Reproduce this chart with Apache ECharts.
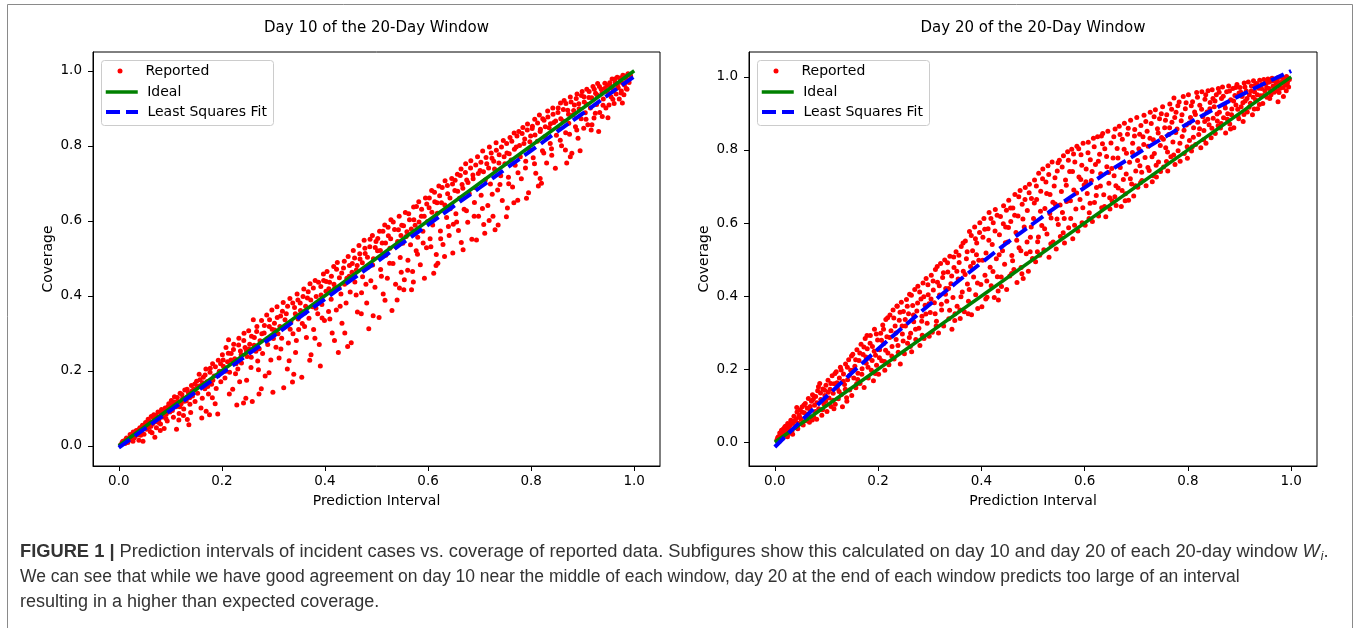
<!DOCTYPE html>
<html><head><meta charset="utf-8">
<script src="https://cdn.jsdelivr.net/npm/echarts@6/dist/echarts.min.js"></script>
<style>html,body{margin:0;padding:0;background:#fff}#chart{width:1360px;height:628px}</style>
</head><body><div id="chart"></div>
<script>
const panelTitles = ['Day 10 of the 20-Day Window', 'Day 20 of the 20-Day Window'];
const seriesNames = ['Reported', 'Ideal', 'Least Squares Fit'];
const xAxisName = 'Prediction Interval';
const yAxisName = 'Coverage';
const tickValues = [0, 0.2, 0.4, 0.6, 0.8, 1.0];
const idealX = [0, 1];
const idealY = [0, 1];
const fitX = [0,0.05,0.1,0.15,0.2,0.25,0.3,0.35,0.4,0.45,0.5,0.55,0.6,0.65,0.7,0.75,0.8,0.85,0.9,0.95,1.0];
const day10FitY = [-0.005,0.045,0.094,0.144,0.193,0.243,0.292,0.342,0.391,0.441,0.490,0.540,0.589,0.639,0.688,0.738,0.787,0.837,0.886,0.936,0.985];
const day20FitY = [-0.013,0.057,0.125,0.191,0.255,0.317,0.377,0.435,0.491,0.546,0.598,0.649,0.697,0.744,0.788,0.831,0.872,0.911,0.948,0.983,1.016];

const day10ReportedA = [
[0.004,0.003],[0.008,0.012],[0.012,0.006],[0.015,0.021],[0.019,0.014],[0.022,0.030],[0.025,0.018],[0.028,0.037],[0.031,0.024],[0.034,0.041],[0.036,0.029],[0.039,0.015],[0.041,0.048],[0.044,0.036],[0.046,0.055],[0.047,0.012],[0.049,0.031],
[0.052,0.062],[0.054,0.044],[0.057,0.071],[0.059,0.051],[0.061,0.038],[0.063,0.078],[0.066,0.059],[0.068,0.083],[0.070,0.023],[0.071,0.064],[0.073,0.048],[0.076,0.090],[0.078,0.071],[0.081,0.058],[0.083,0.097],[0.085,0.077],[0.088,0.046],[0.090,0.101],[0.092,0.084],[0.094,0.066],[0.097,0.112],[0.099,0.090],
[0.102,0.121],[0.104,0.094],[0.106,0.076],[0.108,0.131],[0.111,0.104],[0.112,0.044],[0.114,0.118],[0.117,0.086],[0.119,0.140],[0.121,0.112],[0.124,0.127],[0.126,0.098],[0.128,0.149],[0.131,0.120],[0.133,0.070],[0.135,0.142],[0.136,0.056],[0.138,0.111],[0.141,0.161],[0.143,0.133],[0.146,0.151],[0.148,0.118],
[0.151,0.172],[0.153,0.140],[0.156,0.191],[0.158,0.160],[0.161,0.074],[0.162,0.127],[0.164,0.183],[0.167,0.152],[0.169,0.205],[0.171,0.171],[0.174,0.138],[0.176,0.083],[0.177,0.196],[0.180,0.164],[0.182,0.219],[0.185,0.186],[0.187,0.112],[0.189,0.153],[0.192,0.085],[0.193,0.228],[0.195,0.199],[0.198,0.171],
[0.201,0.243],[0.203,0.212],[0.206,0.181],[0.208,0.262],[0.211,0.224],[0.213,0.283],[0.215,0.196],[0.218,0.246],[0.221,0.151],[0.223,0.271],[0.225,0.232],[0.229,0.109],[0.231,0.205],[0.233,0.287],[0.236,0.253],[0.238,0.221],[0.242,0.114],[0.243,0.300],[0.245,0.262],[0.248,0.175],[0.249,0.238],
[0.252,0.307],[0.254,0.271],[0.257,0.236],[0.259,0.118],[0.261,0.336],[0.263,0.289],[0.266,0.252],[0.268,0.318],[0.271,0.203],[0.272,0.138],[0.274,0.280],[0.277,0.334],[0.279,0.246],[0.282,0.301],[0.284,0.186],[0.287,0.349],[0.289,0.270],[0.292,0.318],[0.295,0.229],[0.297,0.362],[0.299,0.143],[0.300,0.286],
[0.302,0.327],[0.305,0.263],[0.307,0.371],[0.309,0.299],[0.311,0.234],[0.314,0.346],[0.316,0.287],[0.319,0.382],[0.320,0.155],[0.322,0.318],[0.325,0.352],[0.327,0.205],[0.329,0.274],[0.332,0.393],[0.334,0.331],[0.337,0.170],[0.338,0.299],[0.341,0.369],[0.343,0.249],[0.346,0.405],[0.348,0.338],[0.349,0.310],
[0.352,0.381],[0.355,0.183],[0.356,0.326],[0.359,0.418],[0.361,0.354],[0.364,0.289],[0.366,0.394],[0.369,0.340],[0.371,0.432],[0.373,0.243],[0.376,0.371],[0.378,0.310],[0.381,0.441],[0.383,0.398],[0.386,0.352],[0.389,0.270],[0.391,0.213],[0.392,0.425],[0.394,0.377],[0.397,0.458],[0.399,0.334],
[0.402,0.412],[0.404,0.465],[0.407,0.358],[0.409,0.436],[0.412,0.391],[0.414,0.301],[0.417,0.478],[0.419,0.421],[0.422,0.362],[0.424,0.489],[0.426,0.249],[0.428,0.448],[0.431,0.405],[0.433,0.327],[0.436,0.474],[0.438,0.431],[0.441,0.381],[0.444,0.265],[0.445,0.505],[0.447,0.452],[0.449,0.410],[0.451,0.275],
[0.453,0.486],[0.455,0.521],[0.458,0.437],[0.461,0.469],[0.463,0.357],[0.466,0.534],[0.468,0.498],[0.471,0.408],[0.473,0.451],[0.476,0.548],[0.478,0.513],[0.481,0.381],[0.483,0.476],[0.485,0.312],[0.487,0.531],[0.489,0.440],[0.492,0.561],[0.494,0.499],[0.497,0.423],[0.499,0.545],
[0.502,0.520],[0.505,0.342],[0.506,0.572],[0.508,0.470],[0.511,0.541],[0.513,0.405],[0.516,0.589],[0.518,0.508],[0.521,0.447],[0.523,0.560],[0.526,0.527],[0.528,0.603],[0.530,0.361],[0.532,0.486],[0.535,0.577],[0.537,0.431],[0.540,0.389],[0.541,0.545],[0.544,0.612],[0.546,0.502],[0.548,0.463],[0.549,0.588],
[0.551,0.540],[0.553,0.416],[0.554,0.443],[0.556,0.622],[0.559,0.571],[0.561,0.495],[0.564,0.603],[0.566,0.536],[0.568,0.416],[0.570,0.465],[0.572,0.637],[0.575,0.588],[0.577,0.520],[0.580,0.556],[0.582,0.651],[0.585,0.483],[0.587,0.612],[0.590,0.572],[0.593,0.447],[0.595,0.661],[0.597,0.528],[0.599,0.598],
[0.602,0.635],[0.604,0.552],[0.607,0.681],[0.609,0.589],[0.611,0.460],[0.613,0.651],[0.616,0.510],[0.618,0.620],[0.619,0.487],[0.621,0.693],[0.624,0.573],[0.626,0.648],[0.629,0.537],[0.632,0.505],[0.633,0.707],[0.636,0.609],[0.638,0.672],[0.641,0.561],[0.643,0.632],[0.646,0.713],[0.648,0.514],[0.649,0.591],
[0.652,0.681],[0.654,0.619],[0.657,0.724],[0.659,0.574],[0.661,0.660],[0.664,0.738],[0.666,0.697],[0.668,0.523],[0.670,0.631],[0.673,0.752],[0.675,0.709],[0.677,0.596],[0.680,0.672],[0.683,0.760],[0.685,0.551],[0.687,0.722],[0.690,0.649],[0.692,0.688],[0.694,0.549],[0.696,0.771],[0.698,0.612],
[0.701,0.734],[0.703,0.668],[0.706,0.786],[0.708,0.590],[0.710,0.567],[0.711,0.709],[0.714,0.752],[0.716,0.641],[0.719,0.797],[0.721,0.698],[0.724,0.767],[0.726,0.612],[0.729,0.738],[0.730,0.576],[0.732,0.808],[0.735,0.682],[0.736,0.589],[0.738,0.776],[0.741,0.720],[0.744,0.654],[0.746,0.814],[0.749,0.752],
[0.752,0.611],[0.753,0.781],[0.754,0.634],[0.756,0.716],[0.759,0.822],[0.761,0.762],[0.764,0.690],[0.767,0.834],[0.769,0.748],[0.771,0.797],[0.774,0.655],[0.776,0.838],[0.779,0.771],[0.781,0.712],[0.784,0.849],[0.786,0.806],[0.789,0.741],[0.791,0.660],[0.793,0.858],[0.795,0.675],[0.797,0.789],[0.799,0.826],
[0.802,0.846],[0.804,0.768],[0.807,0.871],[0.809,0.727],[0.812,0.812],[0.814,0.693],[0.816,0.882],[0.818,0.844],[0.820,0.700],[0.822,0.787],[0.825,0.868],[0.827,0.825],[0.830,0.754],[0.832,0.893],[0.835,0.848],[0.837,0.806],[0.840,0.775],[0.842,0.901],[0.844,0.862],[0.847,0.740],[0.849,0.828],
[0.852,0.889],[0.854,0.845],[0.857,0.914],[0.859,0.800],[0.862,0.866],[0.864,0.921],[0.867,0.835],[0.869,0.754],[0.871,0.895],[0.873,0.860],[0.876,0.771],[0.876,0.930],[0.879,0.780],[0.881,0.882],[0.884,0.909],[0.886,0.851],[0.889,0.938],[0.891,0.820],[0.893,0.899],[0.895,0.787],[0.897,0.872],[0.899,0.945],
[0.902,0.847],[0.903,0.917],[0.905,0.888],[0.908,0.951],[0.910,0.856],[0.912,0.929],[0.915,0.901],[0.918,0.856],[0.920,0.958],[0.922,0.874],[0.925,0.940],[0.927,0.910],[0.929,0.966],[0.931,0.838],[0.933,0.889],[0.936,0.951],[0.938,0.878],[0.940,0.925],[0.943,0.967],[0.945,0.901],[0.948,0.944],[0.949,0.875],
[0.951,0.909],[0.953,0.962],[0.955,0.931],[0.957,0.978],[0.959,0.946],[0.961,0.913],[0.963,0.969],[0.965,0.938],[0.967,0.983],[0.969,0.955],[0.971,0.925],[0.973,0.972],[0.975,0.946],[0.977,0.914],[0.978,0.988],[0.980,0.936],[0.981,0.962],[0.984,0.979],[0.986,0.951],[0.988,0.992],[0.990,0.969],[0.993,0.985]
];

const day10ReportedB = [
[0.0065,0.009],[0.0135,0.017],[0.0175,0.009],[0.0235,0.027],[0.0295,0.021],[0.0325,0.033],[0.0385,0.043],[0.0425,0.028],[0.0485,0.052],[0.0275,0.012],
[0.0535,0.055],[0.0585,0.066],[0.0625,0.052],[0.0675,0.074],[0.0725,0.081],[0.0775,0.062],[0.0825,0.089],[0.0865,0.092],[0.0915,0.073],[0.0955,0.104],[0.0645,0.035],[0.0805,0.041],
[0.1025,0.108],[0.1075,0.117],[0.1135,0.129],[0.1185,0.104],[0.1225,0.137],[0.1275,0.119],[0.1325,0.151],[0.1375,0.128],[0.1425,0.147],[0.1475,0.165],[0.1165,0.069],[0.1395,0.089],[0.1255,0.081],
[0.1525,0.158],[0.1575,0.176],[0.1625,0.168],[0.1675,0.189],[0.1725,0.158],[0.1775,0.207],[0.1825,0.175],[0.1875,0.211],[0.1925,0.187],[0.1975,0.219],[0.1595,0.101],[0.1815,0.128],[0.1695,0.092],
[0.2025,0.229],[0.2075,0.199],[0.2125,0.247],[0.2175,0.229],[0.2225,0.257],[0.2275,0.219],[0.2325,0.269],[0.2375,0.243],[0.2425,0.281],[0.2475,0.254],[0.2145,0.138],[0.2345,0.171],[0.2265,0.192],[0.2465,0.127],
[0.2525,0.258],[0.2575,0.292],[0.2625,0.268],[0.2675,0.305],[0.2725,0.259],[0.2775,0.299],[0.2825,0.321],[0.2875,0.285],[0.2925,0.336],[0.2975,0.311],[0.2565,0.209],[0.2765,0.152],[0.2915,0.195],[0.2695,0.226],
[0.3025,0.309],[0.3075,0.342],[0.3125,0.318],[0.3175,0.359],[0.3225,0.336],[0.3275,0.372],[0.3325,0.311],[0.3375,0.381],[0.3425,0.352],[0.3475,0.389],[0.3145,0.258],[0.3305,0.227],[0.3445,0.281],[0.3395,0.191],
[0.3525,0.361],[0.3575,0.398],[0.3625,0.372],[0.3675,0.411],[0.3725,0.389],[0.3775,0.421],[0.3825,0.367],[0.3875,0.436],[0.3925,0.402],[0.3975,0.441],[0.3605,0.318],[0.3805,0.287],[0.3945,0.341],[0.3705,0.228],
[0.4025,0.438],[0.4075,0.419],[0.4125,0.452],[0.4175,0.431],[0.4225,0.471],[0.4275,0.421],[0.4325,0.461],[0.4375,0.492],[0.4425,0.447],[0.4475,0.481],[0.4095,0.338],[0.4295,0.372],[0.4385,0.301],[0.4185,0.281],
[0.4525,0.463],[0.4575,0.501],[0.4625,0.481],[0.4675,0.512],[0.4725,0.488],[0.4775,0.527],[0.4825,0.503],[0.4875,0.551],[0.4925,0.482],[0.4975,0.529],[0.4605,0.402],[0.4795,0.431],[0.4935,0.347],[0.4705,0.352],
[0.5025,0.553],[0.5075,0.521],[0.5125,0.572],[0.5175,0.541],[0.5225,0.583],[0.5275,0.552],[0.5325,0.597],[0.5375,0.531],[0.5425,0.576],[0.5475,0.561],[0.5095,0.452],[0.5255,0.487],[0.5445,0.421],[0.5165,0.388],
[0.5525,0.587],[0.5575,0.558],[0.5625,0.619],[0.5675,0.578],[0.5725,0.603],[0.5775,0.638],[0.5825,0.597],[0.5875,0.631],[0.5925,0.612],[0.5975,0.645],[0.5605,0.468],[0.5795,0.511],[0.5905,0.541],[0.5715,0.437],
[0.6025,0.661],[0.6075,0.623],[0.6125,0.676],[0.6175,0.648],[0.6225,0.667],[0.6275,0.689],[0.6325,0.642],[0.6375,0.694],[0.6425,0.661],[0.6475,0.698],[0.6055,0.531],[0.6245,0.552],[0.6395,0.585],[0.6155,0.481],
[0.6525,0.708],[0.6575,0.679],[0.6625,0.721],[0.6675,0.687],[0.6725,0.729],[0.6775,0.702],[0.6825,0.741],[0.6875,0.712],[0.6925,0.749],[0.6975,0.726],[0.6555,0.597],[0.6745,0.627],[0.6895,0.612],[0.6645,0.542],
[0.7025,0.756],[0.7075,0.731],[0.7125,0.769],[0.7175,0.741],[0.7225,0.781],[0.7275,0.759],[0.7325,0.788],[0.7375,0.754],[0.7425,0.797],[0.7475,0.771],[0.7055,0.633],[0.7245,0.671],[0.7395,0.697],[0.7185,0.601],
[0.7525,0.806],[0.7575,0.779],[0.7625,0.812],[0.7675,0.791],[0.7725,0.826],[0.7775,0.801],[0.7825,0.833],[0.7875,0.818],[0.7925,0.842],[0.7975,0.811],[0.7565,0.699],[0.7745,0.728],[0.7895,0.759],[0.7665,0.648],
[0.8025,0.852],[0.8075,0.829],[0.8125,0.861],[0.8175,0.838],[0.8225,0.872],[0.8275,0.851],[0.8325,0.877],[0.8375,0.859],[0.8425,0.884],[0.8475,0.866],[0.8065,0.752],[0.8245,0.781],[0.8395,0.792],[0.8175,0.713],
[0.8525,0.901],[0.8575,0.872],[0.8625,0.897],[0.8675,0.913],[0.8725,0.884],[0.8775,0.917],[0.8825,0.894],[0.8875,0.926],[0.8925,0.912],[0.8975,0.934],[0.8565,0.815],[0.8745,0.831],[0.8885,0.842],[0.8665,0.789],
[0.9025,0.931],[0.9075,0.911],[0.9125,0.945],[0.9175,0.928],[0.9225,0.951],[0.9275,0.936],[0.9325,0.958],[0.9375,0.941],[0.9425,0.953],[0.9475,0.961],[0.9065,0.871],[0.9245,0.887],[0.9395,0.908],[0.9165,0.842],
[0.9525,0.968],[0.9575,0.955],[0.9625,0.978],[0.9675,0.962],[0.9725,0.981],[0.9775,0.967],[0.9825,0.986],[0.9875,0.974],[0.9925,0.989],[0.9585,0.924],[0.9745,0.941],[0.9845,0.953]
];

const day20ReportedA = [
[0.004,0.006],[0.007,0.015],[0.009,0.003],[0.011,0.022],[0.013,0.033],[0.015,0.011],[0.017,0.028],[0.019,0.041],[0.021,0.019],[0.023,0.034],[0.025,0.051],[0.027,0.024],[0.029,0.045],[0.031,0.060],[0.033,0.030],[0.035,0.053],[0.037,0.071],[0.039,0.041],[0.041,0.064],[0.043,0.083],[0.045,0.052],[0.047,0.074],[0.049,0.089],
[0.051,0.062],[0.053,0.097],[0.055,0.047],[0.057,0.081],[0.059,0.106],[0.061,0.068],[0.063,0.093],[0.065,0.120],[0.067,0.055],[0.069,0.086],[0.071,0.112],[0.073,0.130],[0.075,0.070],[0.077,0.101],[0.079,0.125],[0.081,0.063],[0.083,0.141],[0.085,0.092],[0.087,0.161],[0.089,0.117],[0.091,0.074],[0.093,0.146],[0.095,0.105],[0.097,0.128],[0.099,0.156],
[0.101,0.084],[0.103,0.170],[0.105,0.121],[0.107,0.145],[0.109,0.098],[0.111,0.182],[0.113,0.134],[0.115,0.160],[0.117,0.104],[0.119,0.193],[0.121,0.148],[0.123,0.119],[0.125,0.176],[0.127,0.205],[0.129,0.131],[0.131,0.097],[0.133,0.187],[0.135,0.158],[0.137,0.214],[0.139,0.122],[0.141,0.171],[0.143,0.226],[0.145,0.143],[0.147,0.197],[0.149,0.128],
[0.151,0.241],[0.153,0.176],[0.155,0.208],[0.157,0.149],[0.159,0.253],[0.161,0.189],[0.163,0.224],[0.165,0.161],[0.167,0.268],[0.169,0.201],[0.171,0.240],[0.173,0.150],[0.175,0.284],[0.177,0.216],[0.179,0.256],[0.181,0.176],[0.183,0.230],[0.185,0.292],[0.187,0.197],[0.189,0.262],[0.191,0.168],[0.193,0.309],[0.195,0.238],[0.197,0.211],[0.199,0.280],
[0.201,0.186],[0.203,0.253],[0.205,0.298],[0.207,0.223],[0.209,0.321],[0.211,0.270],[0.213,0.197],[0.215,0.336],[0.217,0.289],[0.219,0.244],[0.221,0.212],[0.223,0.348],[0.225,0.305],[0.227,0.262],[0.229,0.362],[0.231,0.228],[0.233,0.318],[0.235,0.281],[0.237,0.372],[0.239,0.246],[0.241,0.334],[0.243,0.214],[0.245,0.383],[0.247,0.296],[0.249,0.358],
[0.251,0.242],[0.253,0.318],[0.255,0.391],[0.257,0.271],[0.259,0.352],[0.261,0.405],[0.263,0.298],[0.265,0.248],[0.267,0.374],[0.269,0.330],[0.271,0.418],[0.273,0.281],[0.275,0.359],[0.277,0.427],[0.279,0.312],[0.281,0.265],[0.283,0.392],[0.285,0.345],[0.287,0.436],[0.289,0.284],[0.291,0.375],[0.293,0.448],[0.295,0.326],[0.297,0.404],[0.299,0.290],
[0.301,0.355],[0.303,0.457],[0.305,0.301],[0.307,0.417],[0.309,0.382],[0.311,0.473],[0.313,0.331],[0.315,0.438],[0.317,0.299],[0.319,0.403],[0.321,0.489],[0.323,0.362],[0.325,0.451],[0.327,0.318],[0.329,0.499],[0.331,0.421],[0.333,0.386],[0.335,0.466],[0.337,0.338],[0.339,0.509],[0.341,0.434],[0.343,0.309],[0.345,0.396],[0.347,0.478],[0.349,0.352],
[0.351,0.521],[0.353,0.372],[0.355,0.447],[0.357,0.492],[0.359,0.339],[0.361,0.536],[0.363,0.411],[0.365,0.468],[0.367,0.357],[0.369,0.551],[0.371,0.502],[0.373,0.433],[0.375,0.386],[0.377,0.577],[0.379,0.481],[0.381,0.349],[0.383,0.524],[0.385,0.452],[0.387,0.589],[0.389,0.404],[0.391,0.545],[0.393,0.366],[0.395,0.498],[0.397,0.601],[0.399,0.432],
[0.401,0.371],[0.403,0.561],[0.405,0.612],[0.407,0.457],[0.409,0.518],[0.411,0.397],[0.413,0.584],[0.415,0.629],[0.417,0.479],[0.419,0.428],[0.421,0.541],[0.423,0.601],[0.425,0.396],[0.427,0.637],[0.429,0.502],[0.431,0.453],[0.433,0.389],[0.435,0.568],[0.437,0.618],[0.439,0.426],[0.441,0.524],[0.443,0.647],[0.445,0.487],[0.447,0.589],[0.449,0.418],
[0.451,0.548],[0.453,0.662],[0.455,0.455],[0.457,0.604],[0.459,0.511],[0.461,0.641],[0.463,0.473],[0.465,0.678],[0.467,0.574],[0.469,0.437],[0.471,0.619],[0.473,0.532],[0.475,0.689],[0.477,0.478],[0.479,0.651],[0.481,0.448],[0.483,0.589],[0.485,0.697],[0.487,0.516],[0.489,0.634],[0.491,0.468],[0.493,0.706],[0.495,0.561],[0.497,0.667],[0.499,0.503],
[0.501,0.612],[0.503,0.718],[0.505,0.494],[0.507,0.664],[0.509,0.549],[0.511,0.736],[0.513,0.512],[0.515,0.687],[0.517,0.593],[0.519,0.748],[0.521,0.527],[0.523,0.640],[0.525,0.712],[0.527,0.570],[0.529,0.757],[0.531,0.506],[0.533,0.678],[0.535,0.614],[0.537,0.767],[0.539,0.548],[0.541,0.701],[0.543,0.652],[0.545,0.529],[0.547,0.742],[0.549,0.596],
[0.551,0.772],[0.553,0.563],[0.555,0.686],[0.557,0.629],[0.559,0.784],[0.561,0.545],[0.563,0.718],[0.565,0.659],[0.567,0.795],[0.569,0.587],[0.571,0.741],[0.573,0.612],[0.575,0.802],[0.577,0.557],[0.579,0.690],[0.581,0.767],[0.583,0.638],[0.585,0.810],[0.587,0.578],[0.589,0.726],[0.591,0.664],[0.593,0.787],[0.595,0.601],[0.597,0.818],[0.599,0.704],
[0.601,0.594],[0.603,0.748],[0.605,0.681],[0.607,0.821],[0.609,0.628],[0.611,0.773],[0.613,0.716],[0.615,0.604],[0.617,0.832],[0.619,0.656],[0.621,0.760],[0.623,0.697],[0.625,0.836],[0.627,0.619],[0.629,0.788],[0.631,0.735],[0.633,0.642],[0.635,0.845],[0.637,0.677],[0.639,0.803],[0.641,0.617],[0.643,0.754],[0.645,0.851],[0.647,0.709],[0.649,0.638],
[0.651,0.819],[0.653,0.661],[0.655,0.778],[0.657,0.729],[0.659,0.857],[0.661,0.648],[0.663,0.804],[0.665,0.696],[0.667,0.865],[0.669,0.752],[0.671,0.645],[0.673,0.829],[0.675,0.719],[0.677,0.873],[0.679,0.680],[0.681,0.791],[0.683,0.843],[0.685,0.662],[0.687,0.766],[0.689,0.881],[0.691,0.707],[0.693,0.818],[0.695,0.674],[0.697,0.856],[0.699,0.742],
[0.701,0.889],[0.703,0.698],[0.705,0.803],[0.707,0.757],[0.709,0.867],[0.711,0.716],[0.713,0.836],[0.715,0.895],[0.717,0.779],[0.719,0.702],[0.721,0.851],[0.723,0.810],[0.725,0.744],[0.727,0.903],[0.729,0.872],[0.731,0.713],[0.733,0.828],[0.735,0.790],[0.737,0.910],[0.739,0.726],[0.741,0.858],[0.743,0.767],[0.745,0.885],[0.747,0.741],[0.749,0.834],
[0.751,0.918],[0.753,0.753],[0.755,0.861],[0.757,0.806],[0.759,0.896],[0.761,0.742],[0.763,0.842],[0.765,0.926],[0.767,0.781],[0.769,0.876],[0.771,0.822],[0.773,0.942],[0.775,0.760],[0.777,0.903],[0.779,0.857],[0.781,0.798],[0.783,0.931],[0.785,0.769],[0.787,0.880],[0.789,0.837],[0.791,0.946],[0.793,0.790],[0.795,0.913],[0.797,0.868],[0.799,0.777],
[0.801,0.951],[0.803,0.826],[0.805,0.889],[0.807,0.797],[0.809,0.932],[0.811,0.861],[0.813,0.904],[0.815,0.815],[0.817,0.957],[0.819,0.876],[0.821,0.842],[0.823,0.922],[0.825,0.806],[0.827,0.959],[0.829,0.891],[0.831,0.853],[0.833,0.939],[0.835,0.818],[0.837,0.904],[0.839,0.962],[0.841,0.869],[0.843,0.930],[0.845,0.833],[0.847,0.965],[0.849,0.887],
[0.851,0.918],[0.853,0.845],[0.855,0.951],[0.857,0.879],[0.859,0.968],[0.861,0.903],[0.863,0.860],[0.865,0.941],[0.867,0.972],[0.869,0.888],[0.871,0.924],[0.873,0.846],[0.875,0.959],[0.877,0.899],[0.879,0.975],[0.881,0.871],[0.883,0.937],[0.885,0.912],[0.887,0.968],[0.889,0.861],[0.891,0.949],[0.893,0.923],[0.895,0.979],[0.897,0.893],[0.899,0.956],
[0.901,0.971],[0.903,0.918],[0.905,0.946],[0.907,0.878],[0.909,0.983],[0.911,0.934],[0.913,0.961],[0.915,0.904],[0.917,0.986],[0.919,0.951],[0.921,0.928],[0.923,0.975],[0.925,0.896],[0.927,0.989],[0.929,0.959],[0.931,0.937],[0.933,0.982],[0.935,0.913],[0.937,0.969],[0.939,0.991],[0.941,0.948],[0.943,0.979],[0.945,0.927],[0.947,0.993],[0.949,0.962],
[0.951,0.982],[0.953,0.944],[0.955,0.994],[0.957,0.968],[0.959,0.987],[0.961,0.951],[0.963,0.996],[0.965,0.975],[0.967,0.958],[0.969,0.992],[0.971,0.981],[0.973,0.962],[0.975,0.998],[0.977,0.984],[0.979,0.969],[0.981,0.999],[0.983,0.987],[0.985,0.946],[0.987,0.994],[0.989,0.978],[0.991,1.001],[0.993,0.988],[0.995,0.972]
];

const day20ReportedB = [
[0.0055,0.012],[0.0165,0.036],[0.0095,0.025],[0.0245,0.015],[0.0305,0.049],[0.0205,0.044],[0.0385,0.058],[0.0445,0.037],[0.0345,0.022],[0.0485,0.068],[0.0265,0.039],[0.0425,0.095],
[0.0525,0.083],[0.0605,0.059],[0.0565,0.102],[0.0685,0.098],[0.0745,0.118],[0.0645,0.077],[0.0815,0.108],[0.0785,0.084],[0.0885,0.135],[0.0925,0.089],[0.0965,0.142],[0.0725,0.061],[0.0845,0.152],[0.0985,0.112],
[0.1035,0.137],[0.1085,0.161],[0.1125,0.115],[0.1165,0.188],[0.1205,0.163],[0.1245,0.139],[0.1325,0.167],[0.1285,0.198],[0.1365,0.145],[0.1405,0.205],[0.1445,0.183],[0.1485,0.236],[0.1145,0.092],[0.1395,0.112],
[0.1525,0.198],[0.1565,0.226],[0.1605,0.172],[0.1645,0.244],[0.1685,0.186],[0.1725,0.261],[0.1765,0.233],[0.1805,0.205],[0.1845,0.271],[0.1885,0.224],[0.1925,0.249],[0.1965,0.296],[0.1585,0.160],[0.1945,0.188],[0.1785,0.292],
[0.2025,0.231],[0.2065,0.279],[0.2105,0.309],[0.2145,0.252],[0.2185,0.341],[0.2225,0.287],[0.2265,0.236],[0.2305,0.340],[0.2345,0.299],[0.2385,0.265],[0.2425,0.356],[0.2465,0.318],[0.2125,0.221],[0.2365,0.373],[0.2485,0.277],
[0.2525,0.336],[0.2565,0.372],[0.2605,0.287],[0.2645,0.402],[0.2685,0.348],[0.2725,0.309],[0.2765,0.381],[0.2805,0.411],[0.2845,0.331],[0.2885,0.398],[0.2925,0.351],[0.2965,0.431],[0.2625,0.262],[0.2855,0.293],[0.2985,0.379],
[0.3025,0.392],[0.3065,0.441],[0.3105,0.352],[0.3145,0.481],[0.3185,0.428],[0.3225,0.378],[0.3265,0.464],[0.3305,0.405],[0.3345,0.491],[0.3385,0.361],[0.3425,0.455],[0.3465,0.507],[0.3125,0.318],[0.3365,0.421],[0.3485,0.333],
[0.3525,0.468],[0.3565,0.512],[0.3605,0.398],[0.3645,0.545],[0.3685,0.459],[0.3725,0.521],[0.3765,0.418],[0.3805,0.566],[0.3845,0.491],[0.3885,0.557],[0.3925,0.436],[0.3965,0.574],[0.3585,0.362],[0.3745,0.352],[0.3905,0.513],
[0.4025,0.498],[0.4065,0.583],[0.4105,0.441],[0.4145,0.553],[0.4185,0.612],[0.4225,0.467],[0.4265,0.578],[0.4305,0.621],[0.4345,0.513],[0.4385,0.452],[0.4425,0.598],[0.4465,0.546],[0.4085,0.392],[0.4325,0.414],[0.4485,0.635],
[0.4525,0.588],[0.4565,0.641],[0.4605,0.497],[0.4645,0.621],[0.4685,0.553],[0.4725,0.672],[0.4765,0.524],[0.4805,0.611],[0.4845,0.664],[0.4885,0.548],[0.4925,0.683],[0.4965,0.589],[0.4585,0.462],[0.4785,0.461],[0.4945,0.521],
[0.5025,0.655],[0.5065,0.701],[0.5105,0.562],[0.5145,0.632],[0.5185,0.721],[0.5225,0.584],[0.5265,0.681],[0.5305,0.733],[0.5345,0.543],[0.5385,0.657],[0.5425,0.724],[0.5465,0.611],[0.5085,0.521],[0.5325,0.626],[0.5485,0.765],
[0.5525,0.649],[0.5565,0.753],[0.5605,0.612],[0.5645,0.703],[0.5685,0.772],[0.5725,0.661],[0.5765,0.741],[0.5805,0.594],[0.5845,0.682],[0.5885,0.803],[0.5925,0.719],[0.5965,0.642],[0.5585,0.573],[0.5785,0.789],[0.5945,0.758],
[0.6025,0.713],[0.6065,0.792],[0.6105,0.654],[0.6145,0.741],[0.6185,0.809],[0.6225,0.675],[0.6265,0.769],[0.6305,0.701],[0.6345,0.817],[0.6385,0.645],[0.6425,0.782],[0.6465,0.738],[0.6085,0.612],[0.6325,0.838],[0.6485,0.669],
[0.6525,0.749],[0.6565,0.836],[0.6605,0.702],[0.6645,0.778],[0.6685,0.842],[0.6725,0.689],[0.6765,0.802],[0.6805,0.734],[0.6845,0.859],[0.6885,0.721],[0.6925,0.793],[0.6965,0.838],[0.6585,0.672],[0.6785,0.661],[0.6985,0.702],
[0.7025,0.771],[0.7065,0.843],[0.7105,0.739],[0.7145,0.815],[0.7185,0.878],[0.7225,0.752],[0.7265,0.832],[0.7305,0.781],[0.7345,0.891],[0.7385,0.758],[0.7425,0.846],[0.7465,0.812],[0.7085,0.711],[0.7325,0.729],[0.7485,0.899],
[0.7525,0.829],[0.7565,0.881],[0.7605,0.794],[0.7645,0.861],[0.7685,0.911],[0.7725,0.786],[0.7765,0.848],[0.7805,0.921],[0.7845,0.818],[0.7885,0.896],[0.7925,0.854],[0.7965,0.929],[0.7585,0.768],[0.7745,0.889],[0.7985,0.809],
[0.8025,0.874],[0.8065,0.921],[0.8105,0.835],[0.8145,0.897],[0.8185,0.944],[0.8225,0.858],[0.8265,0.911],[0.8305,0.828],[0.8345,0.951],[0.8385,0.884],[0.8425,0.913],[0.8465,0.859],[0.8085,0.809],[0.8325,0.878],[0.8485,0.941],
[0.8525,0.934],[0.8565,0.898],[0.8605,0.958],[0.8645,0.872],[0.8685,0.947],[0.8725,0.915],[0.8765,0.884],[0.8805,0.961],[0.8845,0.896],[0.8885,0.934],[0.8925,0.971],[0.8965,0.911],[0.8585,0.866],[0.8825,0.857],[0.8985,0.885],
[0.9025,0.958],[0.9065,0.929],[0.9105,0.972],[0.9145,0.941],[0.9185,0.917],[0.9225,0.961],[0.9265,0.944],[0.9305,0.978],[0.9345,0.951],[0.9385,0.924],[0.9425,0.968],[0.9465,0.949],[0.9085,0.897],[0.9285,0.912],[0.9485,0.981],
[0.9525,0.971],[0.9565,0.985],[0.9605,0.962],[0.9645,0.989],[0.9685,0.973],[0.9725,0.991],[0.9765,0.957],[0.9805,0.983],[0.9845,0.971],[0.9885,0.996],[0.9925,0.981],[0.9965,0.993],[0.9585,0.941],[0.9745,0.932],[0.9905,0.962]
];

const captionLines = [
  '{b|FIGURE 1 |} Prediction intervals of incident cases vs. coverage of reported data. Subfigures show this calculated on day 10 and day 20 of each 20-day window {it|W}{sub|i}.',
  'We can see that while we have good agreement on day 10 near the middle of each window, day 20 at the end of each window predicts too large of an interval',
  'resulting in a higher than expected coverage.'
];
const captionSizes = [18.3, 17.5, 18];

const FONT = 'DejaVu Sans';
const CAP_FONT = 'Liberation Sans';
const grids = [
  {left: 93, top: 52, width: 567, height: 414},
  {left: 749, top: 52, width: 568, height: 414}
];
const yRanges = [[-0.054, 1.05], [-0.065, 1.068]];
const reported = [day10ReportedA.concat(day10ReportedB), day20ReportedA.concat(day20ReportedB)];
const fits = [day10FitY, day20FitY];

const option = {
  animation: false,
  backgroundColor: '#fff',
  grid: grids.map(g => Object.assign({show: true, borderColor: '#000', borderWidth: 1, backgroundColor: 'transparent'}, g)),
  xAxis: grids.map((g, i) => ({
    type: 'value', gridIndex: i, min: -0.05, max: 1.05,
    name: xAxisName, nameLocation: 'middle', nameGap: 28,
    nameTextStyle: {fontFamily: FONT, fontSize: 14, color: '#000'},
    axisLine: {show: true, onZero: false, lineStyle: {color: '#000', width: 1}},
    axisTick: {show: true, length: 5, customValues: tickValues, lineStyle: {color: '#000', width: 1}},
    axisLabel: {customValues: tickValues, formatter: v => v.toFixed(1), fontFamily: FONT, fontSize: 13.5, color: '#000', margin: 8},
    splitLine: {show: false}
  })),
  yAxis: grids.map((g, i) => ({
    type: 'value', gridIndex: i, min: yRanges[i][0], max: yRanges[i][1],
    name: yAxisName, nameLocation: 'middle', nameGap: 38,
    nameTextStyle: {fontFamily: FONT, fontSize: 14, color: '#000'},
    axisLine: {show: true, onZero: false, lineStyle: {color: '#000', width: 1}},
    axisTick: {show: true, length: 5, customValues: tickValues, lineStyle: {color: '#000', width: 1}},
    axisLabel: {customValues: tickValues, formatter: v => v.toFixed(1), fontFamily: FONT, fontSize: 13.5, color: '#000', margin: 11},
    splitLine: {show: false}
  })),
  legend: [],
  graphic: [],
  series: []
};

grids.forEach((g, i) => {
  option.series.push({
    type: 'scatter', name: seriesNames[0], xAxisIndex: i, yAxisIndex: i,
    data: reported[i], symbolSize: 5, itemStyle: {color: '#ff0000', opacity: 1}, z: 2
  });
  option.series.push({
    type: 'line', name: seriesNames[1], xAxisIndex: i, yAxisIndex: i,
    data: idealX.map((x, k) => [x, idealY[k]]), symbol: 'none',
    lineStyle: {color: '#008000', width: 3.5}, itemStyle: {color: '#008000'}, z: 3
  });
  option.series.push({
    type: 'line', name: seriesNames[2], xAxisIndex: i, yAxisIndex: i,
    data: fitX.map((x, k) => [x, fits[i][k]]), symbol: 'none', smooth: true,
    lineStyle: {color: '#0000ff', width: 4, type: [14, 6]}, itemStyle: {color: '#0000ff'}, z: 4
  });
  const bx = g.left + 8;
  option.graphic.push({
    type: 'rect', z: 10, shape: {x: bx + 0.5, y: 60.5, width: 172, height: 65, r: 3},
    style: {fill: 'rgba(255,255,255,0.85)', stroke: '#cccccc', lineWidth: 1}
  });
  const common = {orient: 'horizontal', padding: 0, selectedMode: false, z: 20, formatter: ' {name}',
    textStyle: {fontFamily: FONT, fontSize: 14, color: '#000'}};
  option.legend.push(Object.assign({}, common, {data: [seriesNames[0]], left: bx + 16.5, top: 64, itemWidth: 32, itemHeight: 5}));
  option.legend.push(Object.assign({}, common, {data: [seriesNames[1]], left: bx + 3, top: 85, itemWidth: 32, itemHeight: 14,
    itemStyle: {opacity: 0}, lineStyle: {width: 3.5}}));
  option.legend.push(Object.assign({}, common, {data: [seriesNames[2]], left: bx + 3, top: 105, itemWidth: 32, itemHeight: 14,
    itemStyle: {opacity: 0}, lineStyle: {width: 4, type: [14, 6]}}));
  option.graphic.push({
    type: 'text', x: g.left + g.width / 2, y: 28, z: 10,
    style: {text: panelTitles[i], align: 'center', verticalAlign: 'middle', fontFamily: FONT, fontSize: 15, fill: '#000'}
  });
});

option.graphic.push({
  type: 'rect', z: 0, shape: {x: 7.5, y: 4.5, width: 1345, height: 660},
  style: {fill: 'none', stroke: '#8a8a8a', lineWidth: 1}
});
captionLines.forEach((t, k) => {
  const fs = captionSizes[k];
  option.graphic.push({
    type: 'text', x: 20, y: 552 + k * 25, z: 10,
    style: {
      text: t, align: 'left', verticalAlign: 'middle',
      fontFamily: CAP_FONT, fontSize: fs, fill: '#333',
      rich: {
        b: {fontWeight: 'bold', fontFamily: CAP_FONT, fontSize: fs, fill: '#333'},
        it: {fontStyle: 'italic', fontFamily: CAP_FONT, fontSize: fs, fill: '#333'},
        sub: {fontStyle: 'italic', fontFamily: CAP_FONT, fontSize: 12, fill: '#333', padding: [9, 0, 0, 1]}
      }
    }
  });
});

const chart = echarts.init(document.getElementById('chart'), null, {renderer: 'canvas'});
chart.setOption(option);
</script></body></html>
